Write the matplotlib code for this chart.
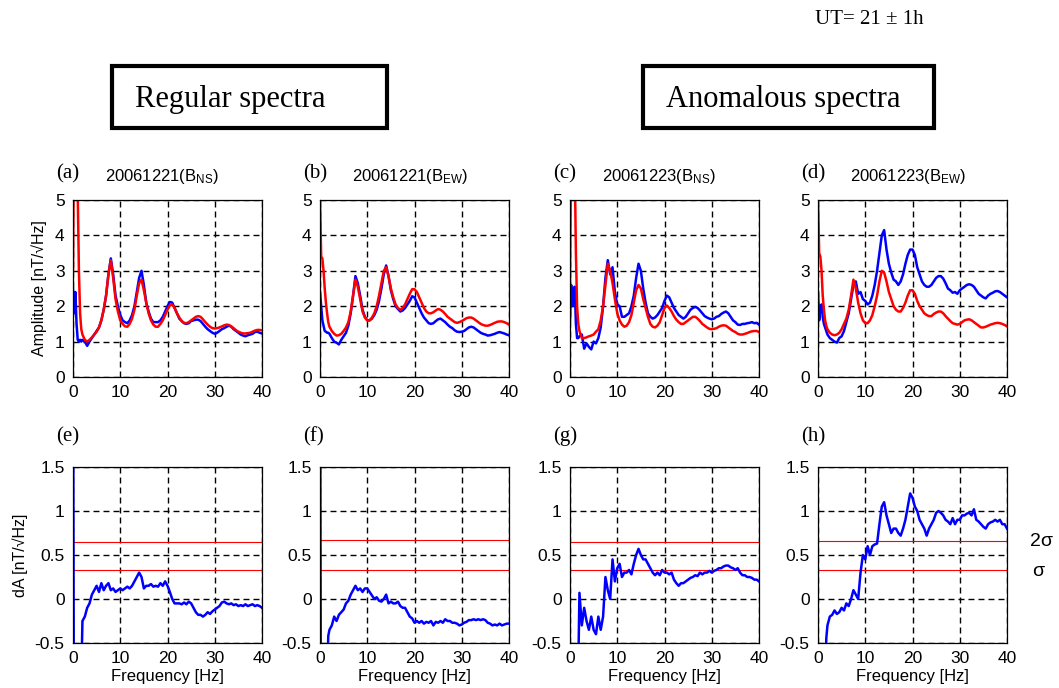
import numpy as np
import matplotlib
matplotlib.use("Agg")
import matplotlib.pyplot as plt
from matplotlib.patches import Rectangle

plt.rcParams["font.family"] = ["Liberation Sans", "DejaVu Sans"]
plt.rcParams["mathtext.fontset"] = "custom"
plt.rcParams["mathtext.rm"] = "Liberation Sans"
plt.rcParams["mathtext.default"] = "regular"

# frequency grid [Hz]: 0.25 Hz below 2 Hz, 0.5 Hz above
FREQ = np.concatenate([np.arange(0, 2, 0.25), np.arange(2, 40.5, 0.5)])

# ---- amplitude spectra (blue = observed, red = reference) ----
A_BLUE = [2.5, 1.8, 2.4, 1.5, 1.05, 1.0, 1.05, 1.0,
          1.05, 1.0, 0.88, 1.0, 1.1, 1.2, 1.3, 1.4, 1.6, 1.9, 2.3, 2.9, 3.35, 2.9, 2.3, 2.0,
          1.75, 1.6, 1.55, 1.52, 1.6, 1.75, 2.0, 2.4, 2.8, 3.0, 2.6, 2.1, 1.85, 1.65, 1.55, 1.55, 1.55, 1.6, 1.7, 1.85,
          2.0, 2.12, 2.1, 1.95, 1.8, 1.65, 1.58, 1.52, 1.5, 1.52, 1.58, 1.6, 1.62, 1.62, 1.58, 1.5, 1.42, 1.35, 1.3, 1.25,
          1.22, 1.25, 1.3, 1.35, 1.38, 1.42, 1.45, 1.42, 1.35, 1.3, 1.25, 1.2, 1.17, 1.15, 1.18, 1.2, 1.22, 1.27, 1.28, 1.25, 1.23]
A_RED = [3.0, 8, 8, 7, 5.2, 3.0, 1.8, 1.35,
         1.2, 1.05, 1.0, 1.05, 1.12, 1.2, 1.28, 1.4, 1.6, 1.9, 2.3, 2.9, 3.3, 2.8, 2.2, 1.85,
         1.6, 1.5, 1.43, 1.42, 1.5, 1.65, 1.9, 2.3, 2.65, 2.75, 2.45, 2.1, 1.8, 1.6, 1.48, 1.42, 1.42, 1.5, 1.6, 1.75,
         1.9, 2.02, 2.05, 1.95, 1.8, 1.68, 1.58, 1.53, 1.52, 1.55, 1.6, 1.65, 1.7, 1.72, 1.7, 1.63, 1.55, 1.48, 1.42, 1.38,
         1.37, 1.38, 1.4, 1.43, 1.46, 1.48, 1.47, 1.43, 1.38, 1.32, 1.28, 1.25, 1.23, 1.23, 1.24, 1.25, 1.28, 1.31, 1.33, 1.33, 1.32]

B_BLUE = [2.4, 2.0, 1.6, 1.45, 1.3, 1.28, 1.25, 1.25,
          1.22, 1.1, 1.0, 0.97, 0.92, 1.05, 1.15, 1.25, 1.45, 1.8, 2.3, 2.85, 2.65, 2.3, 1.9, 1.7,
          1.6, 1.6, 1.65, 1.75, 1.9, 2.15, 2.5, 2.9, 3.15, 2.85, 2.45, 2.2, 2.0, 1.92, 1.85, 1.88, 1.95, 2.05, 2.15, 2.28,
          2.25, 2.1, 1.95, 1.8, 1.68, 1.6, 1.52, 1.5, 1.52, 1.58, 1.63, 1.65, 1.6, 1.55, 1.48, 1.42, 1.38, 1.32, 1.28, 1.27,
          1.28, 1.3, 1.35, 1.4, 1.42, 1.4, 1.35, 1.3, 1.25, 1.22, 1.2, 1.17, 1.18, 1.2, 1.22, 1.25, 1.27, 1.25, 1.23, 1.2, 1.18]
B_RED = [5.0, 3.4, 3.35, 3.0, 2.5, 2.1, 1.8, 1.55,
         1.42, 1.3, 1.22, 1.17, 1.18, 1.22, 1.3, 1.4, 1.55, 1.85, 2.3, 2.75, 2.55, 2.2, 1.85, 1.68,
         1.6, 1.6, 1.68, 1.8, 2.0, 2.3, 2.65, 3.0, 3.1, 2.85, 2.5, 2.25, 2.05, 1.95, 1.9, 1.95, 2.05, 2.2, 2.35, 2.48,
         2.48, 2.4, 2.25, 2.1, 1.95, 1.85, 1.8, 1.8, 1.83, 1.88, 1.92, 1.9, 1.85, 1.78, 1.7, 1.65, 1.6, 1.55, 1.53, 1.55,
         1.58, 1.62, 1.66, 1.68, 1.68, 1.65, 1.6, 1.55, 1.5, 1.47, 1.45, 1.45, 1.47, 1.5, 1.53, 1.56, 1.57, 1.57, 1.55, 1.52, 1.48]

C_BLUE = [1.6, 2.6, 2.0, 2.5, 2.55, 1.5, 1.1, 1.1,
          1.15, 1.2, 0.8, 0.95, 0.85, 0.78, 1.0, 0.95, 1.1, 1.4, 2.0, 2.8, 3.3, 2.9, 3.1, 2.4,
          2.05, 2.0, 1.7, 1.7, 1.75, 1.8, 2.0, 2.3, 2.8, 3.2, 3.0, 2.5, 2.1, 1.8, 1.7, 1.65, 1.68, 1.75, 1.85, 1.95,
          2.15, 2.3, 2.25, 2.1, 1.95, 1.85, 1.75, 1.7, 1.65, 1.7, 1.8, 1.9, 1.95, 1.98, 1.95, 1.88, 1.8, 1.72, 1.68, 1.65,
          1.63, 1.65, 1.7, 1.72, 1.78, 1.82, 1.85, 1.8, 1.7, 1.6, 1.55, 1.48, 1.47, 1.5, 1.5, 1.52, 1.53, 1.55, 1.52, 1.53, 1.48]
C_RED = [2.6, 7, 8, 8, 6, 3.5, 2.0, 1.5,
         1.3, 1.1, 1.1, 1.12, 1.15, 1.17, 1.2, 1.28, 1.35, 1.6, 2.0, 2.6, 3.2, 3.0, 2.65, 2.2,
         1.8, 1.6, 1.48, 1.42, 1.45, 1.55, 1.75, 2.1, 2.45, 2.6, 2.5, 2.2, 1.95, 1.7, 1.5, 1.42, 1.4, 1.45, 1.55, 1.75,
         1.95, 2.02, 1.95, 1.85, 1.72, 1.62, 1.55, 1.5, 1.5, 1.55, 1.6, 1.65, 1.7, 1.7, 1.65, 1.58, 1.5, 1.45, 1.4, 1.36,
         1.35, 1.36, 1.38, 1.42, 1.45, 1.46, 1.45, 1.4, 1.35, 1.3, 1.27, 1.22, 1.2, 1.2, 1.22, 1.24, 1.27, 1.29, 1.3, 1.3, 1.27]

D_BLUE = [2.4, 1.6, 2.0, 2.05, 1.7, 1.5, 1.4, 1.3,
          1.2, 1.1, 1.05, 1.0, 0.97, 1.1, 1.15, 1.3, 1.55, 1.8, 2.2, 2.6, 2.7, 2.35, 2.4, 2.2,
          2.15, 2.05, 2.1, 2.3, 2.6, 3.0, 3.5, 4.0, 4.15, 3.6, 3.2, 2.95, 2.75, 2.7, 2.6, 2.7, 2.9, 3.2, 3.45, 3.6,
          3.6, 3.45, 3.1, 2.9, 2.7, 2.6, 2.55, 2.55, 2.6, 2.7, 2.8, 2.85, 2.85, 2.78, 2.65, 2.5, 2.45, 2.38, 2.4, 2.35,
          2.45, 2.5, 2.55, 2.6, 2.62, 2.6, 2.55, 2.45, 2.35, 2.3, 2.25, 2.22, 2.3, 2.35, 2.38, 2.42, 2.43, 2.4, 2.35, 2.3, 2.25]
D_RED = [5.0, 3.5, 3.4, 3.0, 2.3, 1.9, 1.6, 1.45,
         1.35, 1.25, 1.2, 1.18, 1.2, 1.25, 1.35, 1.5, 1.65, 1.9, 2.3, 2.75, 2.5, 2.1, 1.8, 1.6,
         1.52, 1.52, 1.6, 1.75, 2.0, 2.3, 2.7, 3.0, 2.95, 2.7, 2.4, 2.2, 2.0, 1.9, 1.85, 1.85, 1.95, 2.1, 2.3, 2.45,
         2.45, 2.35, 2.15, 2.0, 1.9, 1.8, 1.75, 1.72, 1.72, 1.78, 1.82, 1.85, 1.85, 1.8, 1.72, 1.65, 1.58, 1.52, 1.5, 1.48,
         1.5, 1.55, 1.6, 1.62, 1.63, 1.6, 1.55, 1.5, 1.45, 1.4, 1.4, 1.42, 1.45, 1.48, 1.5, 1.52, 1.53, 1.52, 1.5, 1.47, 1.43]

# ---- amplitude differences dA ----
E_DA = [3.0, -3, -3, -3, -3, -2, -1.5, -0.9,
        -0.25, -0.2, -0.1, -0.05, 0.05, 0.1, 0.15, 0.08, 0.18, 0.1, 0.15, 0.18, 0.1, 0.12, 0.08, 0.1,
        0.12, 0.1, 0.12, 0.14, 0.12, 0.15, 0.2, 0.25, 0.3, 0.25, 0.12, 0.15, 0.15, 0.17, 0.14, 0.15, 0.14, 0.18, 0.15, 0.2,
        0.15, 0.08, 0.0, -0.05, -0.05, -0.05, -0.06, -0.04, -0.06, -0.03, -0.05, -0.1, -0.15, -0.18, -0.18, -0.2, -0.18, -0.15, -0.17, -0.14,
        -0.12, -0.1, -0.08, -0.04, -0.03, -0.05, -0.06, -0.05, -0.07, -0.06, -0.08, -0.07, -0.08, -0.06, -0.08, -0.07, -0.06, -0.08, -0.07, -0.08, -0.1]
F_DA = [3.0, -3, -3, -3, -3, -2, -1.0, -0.42,
        -0.35, -0.3, -0.2, -0.25, -0.18, -0.15, -0.12, -0.05, -0.02, 0.05, 0.1, 0.15, 0.1, 0.12, 0.08, 0.12,
        0.12, 0.08, 0.04, 0.0, 0.02, -0.02, -0.03, 0.0, 0.05, -0.05, -0.03, -0.05, -0.05, -0.03, -0.08, -0.1, -0.1, -0.15, -0.2, -0.22,
        -0.27, -0.25, -0.27, -0.25, -0.28, -0.26, -0.27, -0.25, -0.3, -0.26, -0.27, -0.25, -0.27, -0.23, -0.25, -0.25, -0.27, -0.27, -0.28, -0.3,
        -0.29, -0.27, -0.26, -0.24, -0.24, -0.23, -0.24, -0.23, -0.24, -0.23, -0.24, -0.27, -0.28, -0.3, -0.29, -0.3, -0.28, -0.3, -0.29, -0.28, -0.28]
G_DA = [-3, -3, -3, -3, -3, -2, -1.5, -0.8,
        0.07, -0.3, -0.1, -0.25, -0.35, -0.2, -0.35, -0.4, -0.2, -0.35, -0.2, 0.25, 0.1, 0.0, 0.45, 0.2,
        0.35, 0.4, 0.25, 0.3, 0.3, 0.33, 0.28, 0.4, 0.5, 0.57, 0.5, 0.45, 0.45, 0.4, 0.35, 0.3, 0.27, 0.3, 0.27, 0.33,
        0.3, 0.3, 0.28, 0.3, 0.22, 0.18, 0.15, 0.18, 0.18, 0.2, 0.22, 0.24, 0.25, 0.27, 0.26, 0.3, 0.28, 0.3, 0.3, 0.32,
        0.3, 0.32, 0.33, 0.35, 0.35, 0.37, 0.38, 0.38, 0.36, 0.35, 0.33, 0.35, 0.3, 0.27, 0.27, 0.25, 0.25, 0.24, 0.22, 0.22, 0.2]
H_DA = [-3, -3, -3, -3, -3, -2, -1.2, -0.45,
        -0.3, -0.2, -0.18, -0.13, -0.17, -0.15, -0.1, -0.13, -0.05, -0.08, 0.0, 0.1, 0.05, 0.0, 0.3, 0.5,
        0.45, 0.6, 0.5, 0.6, 0.62, 0.63, 0.85, 1.05, 1.1, 0.95, 0.85, 0.75, 0.8, 0.8, 0.75, 0.72, 0.8, 0.9, 1.05, 1.2,
        1.15, 1.05, 1.0, 0.9, 0.85, 0.8, 0.72, 0.8, 0.85, 0.9, 0.98, 1.0, 0.98, 0.95, 0.9, 0.88, 0.85, 0.92, 0.85, 0.9,
        0.9, 0.95, 0.95, 0.97, 0.98, 0.95, 1.02, 0.9, 0.88, 0.85, 0.82, 0.8, 0.85, 0.87, 0.88, 0.9, 0.88, 0.9, 0.85, 0.85, 0.8]

# sigma / 2 sigma levels per bottom panel
SIGMA = [0.325, 0.333, 0.325, 0.335]
SIGMA2 = [0.65, 0.665, 0.65, 0.66]

TOP_TITLES = ["20061221(B$_{NS}$)", "20061221(B$_{EW}$)", "20061223(B$_{NS}$)", "20061223(B$_{EW}$)"]
TOP_LETTERS = ["(a)", "(b)", "(c)", "(d)"]
BOT_LETTERS = ["(e)", "(f)", "(g)", "(h)"]
TOP_DATA = [(A_BLUE, A_RED), (B_BLUE, B_RED), (C_BLUE, C_RED), (D_BLUE, D_RED)]
BOT_DATA = [E_DA, F_DA, G_DA, H_DA]

W, H = 1059, 688
LEFTS = [73, 320, 570, 818]   # pixel positions of axes
AX_W = 189
SERIF = ["Liberation Serif", "DejaVu Serif"]


def fx(x):
    return x / W


def fy(y):
    return 1 - y / H


def style_axes(ax):
    ax.grid(True, color="k", linestyle=(0, (4.3, 2.9)), linewidth=1.0)
    ax.set_axisbelow(True)
    ax.tick_params(length=0, labelsize=12.5, pad=6)
    for s in ax.spines.values():
        s.set_linewidth(0.9)


fig = plt.figure(figsize=(W / 100, H / 100), dpi=100)

for i in range(4):
    x0 = LEFTS[i]
    # top: amplitude spectra
    ax = fig.add_axes([fx(x0), fy(377), AX_W / W, 177 / H])
    blue, red = TOP_DATA[i]
    ax.plot(FREQ, blue, color="#0000ff", lw=1.8)
    ax.plot(FREQ, red, color="#ff0000", lw=1.8)
    ax.set_xlim(0, 40)
    ax.set_ylim(0, 5)
    ax.set_xticks([0, 10, 20, 30, 40])
    ax.set_yticks([0, 1, 2, 3, 4, 5])
    style_axes(ax)
    if i == 0:
        ax.set_ylabel("Amplitude [nT/√Hz]", fontsize=11.5)
        ax.yaxis.set_label_coords(-0.14, 0.5)
    fig.text(fx(x0 - 17), fy(178), TOP_LETTERS[i], family=SERIF, fontsize=15, va="baseline")
    fig.text(fx(x0 + 32), fy(181), TOP_TITLES[i], fontsize=12, va="baseline")

    # bottom: amplitude differences
    ax2 = fig.add_axes([fx(x0), fy(643), AX_W / W, 176 / H])
    ax2.axhline(SIGMA2[i], color="#ff0000", lw=0.8)
    ax2.axhline(SIGMA[i], color="#ff0000", lw=0.8)
    ax2.plot(FREQ, BOT_DATA[i], color="#0000ff", lw=1.8)
    ax2.set_xlim(0, 40)
    ax2.set_ylim(-0.5, 1.5)
    ax2.set_xticks([0, 10, 20, 30, 40])
    ax2.set_yticks([-0.5, 0, 0.5, 1, 1.5])
    ax2.set_yticklabels(["-0.5", "0", "0.5", "1", "1.5"])
    style_axes(ax2)
    ax2.set_xlabel("Frequency [Hz]", fontsize=12)
    ax2.xaxis.set_label_coords(0.5, -0.145)
    if i == 0:
        ax2.set_ylabel("dA [nT/√Hz]", fontsize=11.5)
        ax2.yaxis.set_label_coords(-0.24, 0.5)
    fig.text(fx(x0 - 17), fy(441), BOT_LETTERS[i], family=SERIF, fontsize=15, va="baseline")

# sigma labels
fig.text(fx(1030), fy(542), "2σ", fontsize=14, va="center")
fig.text(fx(1032), fy(572), "σ", fontsize=14, va="center")

# header boxes
for x0, x1, label in [(112, 387, "Regular spectra"), (643, 934, "Anomalous spectra")]:
    fig.patches.append(Rectangle((fx(x0), fy(128)), (x1 - x0) / W, (128 - 66) / H,
                                 fill=False, lw=3, edgecolor="k", transform=fig.transFigure))
    fig.text(fx(x0 + 23), fy(99), label, family=SERIF, fontsize=22, va="center")

fig.text(fx(815), fy(19), "UT= 21 ± 1h", family=SERIF, fontsize=15, va="center")

fig.savefig("out.png", dpi=100)
